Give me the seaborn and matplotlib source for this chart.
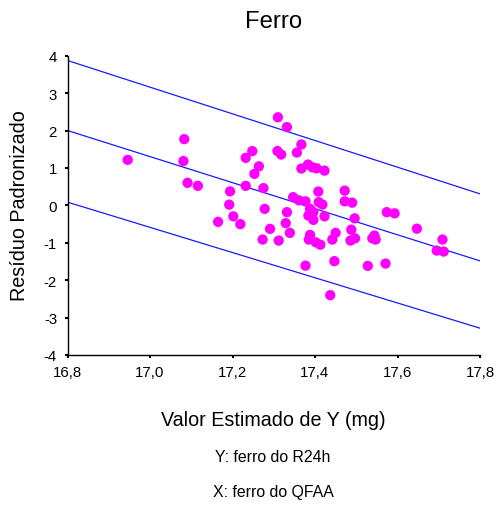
import numpy as np
import pandas as pd
import matplotlib
matplotlib.use("Agg")
import matplotlib.pyplot as plt
import seaborn as sns
from matplotlib.ticker import FuncFormatter

# ---- data ----
estimado = [16.946, 17.083, 17.081, 17.091, 17.116, 17.194, 17.192, 17.202, 17.165, 17.219,
            17.232, 17.248, 17.264, 17.253, 17.232, 17.275, 17.278, 17.291, 17.273, 17.312,
            17.310, 17.332, 17.367, 17.309, 17.318, 17.356, 17.367, 17.383, 17.394, 17.404,
            17.423, 17.408, 17.472, 17.347, 17.361, 17.377, 17.409, 17.418, 17.472, 17.490,
            17.332, 17.388, 17.396, 17.384, 17.396, 17.423, 17.496, 17.574, 17.593, 17.329,
            17.339, 17.388, 17.385, 17.402, 17.413, 17.450, 17.442, 17.488, 17.486, 17.497,
            17.544, 17.539, 17.547, 17.647, 17.709, 17.695, 17.712, 17.377, 17.447, 17.528,
            17.571, 17.437]
residuo = [1.217, 1.770, 1.184, 0.602, 0.521, 0.374, 0.019, -0.294, -0.441, -0.503,
           1.270, 1.449, 1.043, 0.842, 0.521, 0.460, -0.094, -0.628, -0.914, -0.941,
           2.353, 2.091, 1.626, 1.452, 1.358, 1.412, 0.984, 1.091, 1.016, 0.989,
           0.928, 0.369, 0.393, 0.219, 0.134, 0.107, 0.086, 0.021, 0.107, 0.072,
           -0.182, -0.094, -0.182, -0.273, -0.388, -0.294, -0.348, -0.182, -0.214, -0.476,
           -0.735, -0.789, -0.914, -0.989, -1.051, -0.735, -0.914, -0.650, -0.941, -0.882,
           -0.807, -0.882, -0.914, -0.623, -0.914, -1.209, -1.235, -1.612, -1.492, -1.618,
           -1.556, -2.401]

line_x = [16.8, 17.8]
line_centro = [2.00, -1.484]
line_superior = [3.872, 0.307]
line_inferior = [0.086, -3.283]

x_ticks = [16.8, 17.0, 17.2, 17.4, 17.6, 17.8]
y_ticks = [-4, -3, -2, -1, 0, 1, 2, 3, 4]

titulo = "Ferro"
xlabel = "Valor Estimado de Y (mg)"
ylabel = "Resíduo Padronizado"
nota_y = "Y: ferro do R24h"
nota_x = "X: ferro do QFAA"

# ---- style ----
sns.set_style("ticks")
plt.rcParams["font.family"] = ["Liberation Sans", "DejaVu Sans"]
plt.rcParams["axes.unicode_minus"] = False
plt.rcParams["text.color"] = "black"
plt.rcParams["axes.labelcolor"] = "black"
plt.rcParams["xtick.color"] = "black"
plt.rcParams["ytick.color"] = "black"

W, H = 497, 506
fig = plt.figure(figsize=(W / 100, H / 100), dpi=100)
L, R, T, B = 67.5, 480.0, 56.7, 356.0
ax = fig.add_axes([L / W, 1 - B / H, (R - L) / W, (B - T) / H])

pts = pd.DataFrame({"x": estimado, "y": residuo})
lines = pd.DataFrame({
    "x": line_x * 3,
    "y": line_superior + line_centro + line_inferior,
    "linha": ["sup"] * 2 + ["cen"] * 2 + ["inf"] * 2,
})

sns.lineplot(data=lines, x="x", y="y", units="linha", estimator=None,
             color="#1a1aff", linewidth=0.9, ax=ax, legend=False)
sns.scatterplot(data=pts, x="x", y="y", color="#ff00ff", s=55,
                edgecolor="none", linewidth=0, ax=ax, legend=False, zorder=3)

ax.set_xlim(16.8, 17.8)
ax.set_ylim(-4, 4)
ax.set_xticks(x_ticks)
ax.set_yticks(y_ticks)
ax.xaxis.set_major_formatter(FuncFormatter(lambda v, p: f"{v:.1f}".replace(".", ",")))
ax.yaxis.set_major_formatter(FuncFormatter(lambda v, p: f"{int(round(v))}"))
ax.tick_params(axis="both", length=2, width=1.5, color="black",
               labelsize=10.8, labelcolor="black")
ax.tick_params(axis="x", pad=5)
ax.tick_params(axis="y", pad=5.5)
for s in ["top", "right"]:
    ax.spines[s].set_visible(False)
for s in ["left", "bottom"]:
    ax.spines[s].set_color("black")
    ax.spines[s].set_linewidth(1.0)

hpx = B - T
wpx = R - L
ax.set_xlabel(xlabel, fontsize=14.2, va="center", color="black")
ax.xaxis.set_label_coords(0.5, (B - 420) / hpx)
ax.set_ylabel(ylabel, fontsize=14.2, va="center", color="black")
ax.yaxis.set_label_coords((20 - L) / wpx, (B - 206) / hpx)
ax.set_title(titulo, fontsize=17.2, y=(B - 22) / hpx, va="center", pad=0, color="black")

fig.text(273 / W, 1 - 458 / H, nota_y, ha="center", va="center", fontsize=11.4, color="black")
fig.text(273 / W, 1 - 492.7 / H, nota_x, ha="center", va="center", fontsize=11.4, color="black")

fig.savefig("out.png", dpi=100)
